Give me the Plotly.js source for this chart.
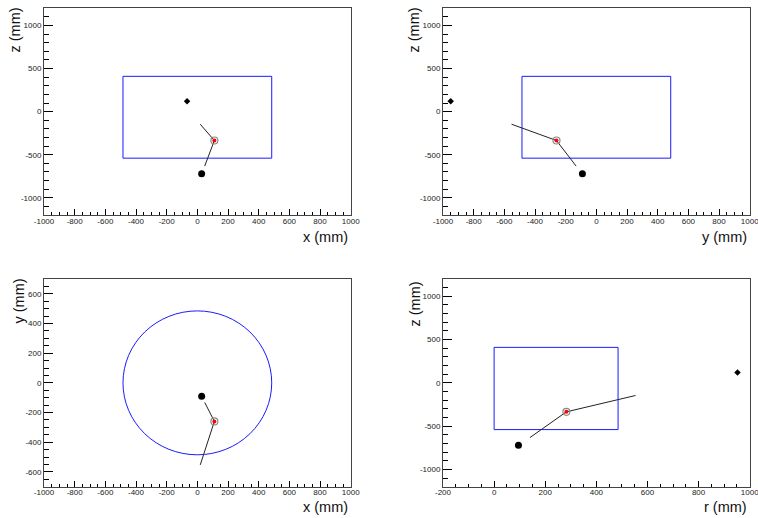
<!DOCTYPE html>
<html>
<head>
<meta charset="utf-8">
<script src="https://cdn.plot.ly/plotly-3.0.1.min.js"></script>
<style>html,body{margin:0;padding:0;background:#fff;}#chart{width:758px;height:518px;}</style>
</head>
<body>
<div id="chart"></div>
<script>
// ---- data (mm) ----
const hitX = [-67], hitY = [-950], hitZ = [121];          // small black diamond
const vertexX = [28], vertexY = [-91], vertexZ = [-722];  // big black dot
const pointX = [111], pointY = [-260], pointZ = [-335];   // red point with grey ring
const trackX = [48, 111, 19];
const trackY = [-132, -260, -553];
const trackZ = [-632, -335, -146];
const detR = 485, detZmin = -540, detZmax = 410;           // detector outline

const ticksPM1000 = [-1000, -800, -600, -400, -200, 0, 200, 400, 600, 800, 1000];
const labelsPM1000 = ['-1000', '-800', '-600', '-400', '-200', '0', '200', '400', '600', '800', '1000'];
const ticksZ = [-1000, -500, 0, 500, 1000];
const labelsZ = ['-1000', '-500', '0', '500', '1000'];
const ticksY3 = [-600, -400, -200, 0, 200, 400, 600];
const labelsY3 = ['-600', '-400', '-200', '0', '200', '400', '600'];
const ticksR = [-200, 0, 200, 400, 600, 800, 1000];
const labelsR = ['-200', '0', '200', '400', '600', '800', '1000'];

const rOf = (xs, ys) => xs.map((v, i) => Math.sqrt(v * v + ys[i] * ys[i]));

const W = 758, H = 518;
const xdomL = [44 / W, 350.7 / W], xdomR = [443 / W, 749.7 / W];
const ydomT = [1 - 215 / H, 1 - 8.3 / H], ydomB = [1 - 486.7 / H, 1 - 279 / H];

const tickFont = {family: '"Liberation Sans Narrow", "Liberation Sans", Arial, sans-serif', size: 8, color: '#222'};

function axis(range, tv, tt, minorD, len, mlen, domain, anchor, standoff) {
  return {
    range: range, domain: domain, anchor: anchor,
    tickmode: 'array', tickvals: tv, ticktext: tt,
    ticks: 'inside', ticklen: len, tickwidth: 1, tickcolor: '#000',
    minor: {tickmode: 'linear', tick0: 0, dtick: minorD, ticks: 'inside', ticklen: mlen, tickwidth: 1, tickcolor: '#000'},
    showline: true, linecolor: '#444', linewidth: 1, mirror: true,
    showgrid: false, zeroline: false, tickfont: tickFont, fixedrange: true,
    ticklabeloverflow: 'allow', automargin: false, autotickangles: [0],
    ticklabelstandoff: standoff
  };
}

function panelTraces(xa, ya, hx, hy, vx, vy, px, py, tx, ty) {
  return [
    {x: tx, y: ty, xaxis: xa, yaxis: ya, mode: 'lines', line: {color: '#222', width: 1}, hoverinfo: 'skip'},
    {x: hx, y: hy, xaxis: xa, yaxis: ya, mode: 'markers', marker: {symbol: 'diamond', size: 5, color: '#000'}},
    {x: vx, y: vy, xaxis: xa, yaxis: ya, mode: 'markers', marker: {symbol: 'circle', size: 7, color: '#000'}},
    {x: px, y: py, xaxis: xa, yaxis: ya, mode: 'markers', marker: {symbol: 'circle-open', size: 7, color: '#888', line: {width: 1.2, color: '#888'}}},
    {x: px, y: py, xaxis: xa, yaxis: ya, mode: 'markers', marker: {symbol: 'circle', size: 4, color: '#ff0000'}}
  ];
}

const data = [].concat(
  panelTraces('x', 'y', hitX, hitZ, vertexX, vertexZ, pointX, pointZ, trackX, trackZ),
  panelTraces('x2', 'y2', hitY, hitZ, vertexY, vertexZ, pointY, pointZ, trackY, trackZ),
  panelTraces('x3', 'y3', hitX, hitY, vertexX, vertexY, pointX, pointY, trackX, trackY),
  panelTraces('x4', 'y4', rOf(hitX, hitY), hitZ, rOf(vertexX, vertexY), vertexZ, rOf(pointX, pointY), pointZ, rOf(trackX, trackY), trackZ)
);

const blue = {color: '#1a1aff', width: 1};
const shapes = [
  {type: 'rect', xref: 'x', yref: 'y', x0: -detR, x1: detR, y0: detZmin, y1: detZmax, line: blue, layer: 'below'},
  {type: 'rect', xref: 'x2', yref: 'y2', x0: -detR, x1: detR, y0: detZmin, y1: detZmax, line: blue, layer: 'below'},
  {type: 'circle', xref: 'x3', yref: 'y3', x0: -detR, x1: detR, y0: -detR, y1: detR, line: blue, layer: 'below'},
  {type: 'rect', xref: 'x4', yref: 'y4', x0: 0, x1: detR, y0: detZmin, y1: detZmax, line: blue, layer: 'below'}
];

const titleFont = {family: '"Liberation Sans", Arial, sans-serif', size: 14.5, color: '#111'};
function xt(text, xpx, ypx) {
  return {text: text, xref: 'paper', yref: 'paper', x: xpx / W, y: 1 - ypx / H, xanchor: 'right', yanchor: 'middle', showarrow: false, font: titleFont, borderpad: 0};
}
function yt(text, xpx, ypx) {
  return {text: text, xref: 'paper', yref: 'paper', x: xpx / W, y: 1 - ypx / H, xanchor: 'center', yanchor: 'top', textangle: -90, showarrow: false, font: titleFont, borderpad: 0};
}

const layout = {
  width: W, height: H,
  margin: {l: 0, r: 0, t: 0, b: 0},
  paper_bgcolor: '#fff', plot_bgcolor: '#fff',
  showlegend: false,
  xaxis: axis([-1000, 1000], ticksPM1000, labelsPM1000, 50, 6, 3, xdomL, 'y', -2),
  yaxis: axis([-1200, 1200], ticksZ, labelsZ, 100, 9, 5, ydomT, 'x', 0),
  xaxis2: axis([-1000, 1000], ticksPM1000, labelsPM1000, 50, 6, 3, xdomR, 'y2', -2),
  yaxis2: axis([-1200, 1200], ticksZ, labelsZ, 100, 9, 5, ydomT, 'x2', 0),
  xaxis3: axis([-1000, 1000], ticksPM1000, labelsPM1000, 50, 6, 3, xdomL, 'y3', -2),
  yaxis3: axis([-700, 700], ticksY3, labelsY3, 50, 9, 5, ydomB, 'x3', 0),
  xaxis4: axis([-200, 1000], ticksR, labelsR, 50, 6, 3, xdomR, 'y4', -2),
  yaxis4: axis([-1200, 1200], ticksZ, labelsZ, 100, 9, 5, ydomB, 'x4', 0),
  shapes: shapes,
  annotations: [
    xt('x (mm)', 349, 237), xt('y (mm)', 748, 237), xt('x (mm)', 349, 507), xt('r (mm)', 748, 507),
    yt('z (mm)', 15, 7), yt('z (mm)', 414, 7), yt('y (mm)', 18, 278), yt('z (mm)', 414, 281)
  ]
};

Plotly.newPlot('chart', data, layout, {staticPlot: true, displayModeBar: false});
</script>
</body>
</html>
